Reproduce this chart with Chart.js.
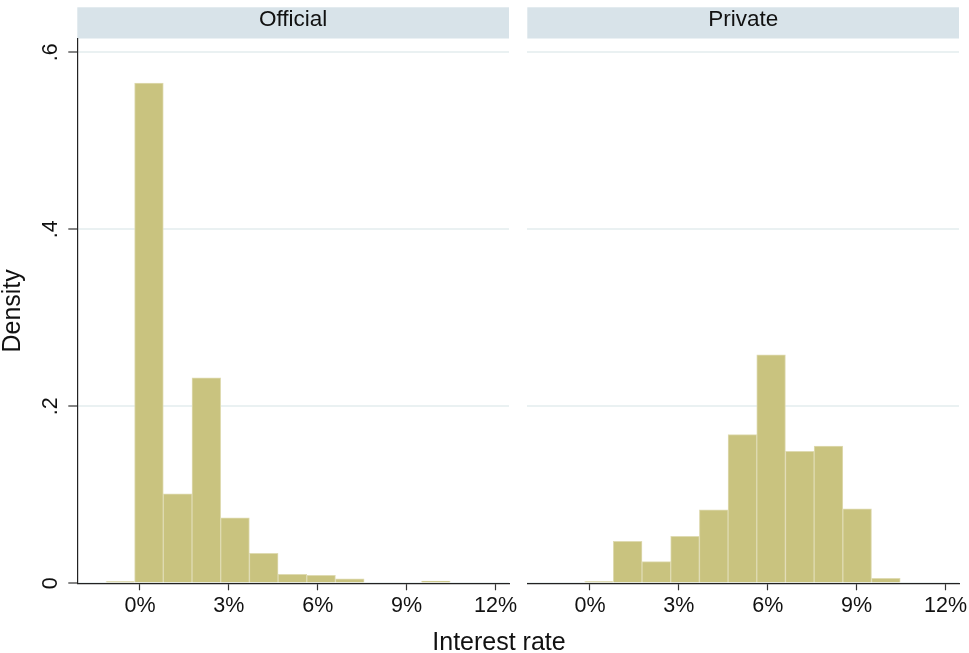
<!DOCTYPE html>
<html>
<head>
<meta charset="utf-8">
<script src="https://cdn.jsdelivr.net/npm/chart.js@4.4.1/dist/chart.umd.min.js"></script>
<style>
  html, body { margin: 0; padding: 0; background: #fff; }
  body { width: 969px; height: 653px; position: relative; overflow: hidden; font-family: "Liberation Sans", Arial, sans-serif; }
  .panel { position: absolute; top: 0; height: 653px; }
  #left { left: 0; width: 518px; }
  #right { left: 518px; width: 451px; }
  #xtitle { position: absolute; left: 349px; width: 300px; top: 626px; text-align: center; font-size: 25px; line-height: 30px; color: #111; }
</style>
</head>
<body>
<div class="panel" id="left"><canvas id="official"></canvas></div>
<div class="panel" id="right"><canvas id="private"></canvas></div>
<div id="xtitle">Interest rate</div>
<script>
// histogram bins (left edges, in %) shared by both panels
const binLeft = [-1.150, -0.182, 0.787, 1.755, 2.723, 3.692, 4.660, 5.628, 6.596, 7.565, 8.533, 9.501];
const binWidth = 0.968;

const officialDensity = [0.002, 0.565, 0.101, 0.232, 0.074, 0.034, 0.010, 0.009, 0.005, 0, 0, 0.0025];
const privateDensity = [0, 0.002, 0.0475, 0.0245, 0.053, 0.083, 0.168, 0.258, 0.149, 0.155, 0.084, 0.0057];

const xTicks = [0, 3, 6, 9, 12];
const yTicks = [0, 0.2, 0.4, 0.6];

Chart.defaults.font.family = '"Liberation Sans", Arial, sans-serif';
Chart.defaults.color = '#111';

// light blue strip behind the panel title
const stripPlugin = {
  id: 'strip',
  beforeDraw(chart) {
    const { ctx, chartArea, titleBlock } = chart;
    ctx.save();
    ctx.fillStyle = '#D8E3E9';
    ctx.fillRect(chartArea.left, titleBlock.top, chartArea.right - chartArea.left, titleBlock.height);
    ctx.restore();
  }
};

const makePanel = function (id, title, values, showY) {
  const ctx = document.getElementById(id).getContext('2d');
  return new Chart(ctx, {
    type: 'bar',
    data: {
      datasets: [{
        data: binLeft.map((l, i) => ({ x: l + binWidth / 2, y: values[i] })),
        backgroundColor: '#C9C37F',
        borderColor: '#DFDBB2',
        borderWidth: 1,
        barPercentage: 1,
        categoryPercentage: 1
      }]
    },
    options: {
      responsive: true,
      maintainAspectRatio: false,
      animation: false,
      layout: { padding: { top: 7.3, left: 0, right: showY ? 9 : 10, bottom: 0 } },
      plugins: {
        legend: { display: false },
        tooltip: { enabled: false },
        title: {
          display: true,
          text: title,
          fullSize: false,
          color: '#111',
          font: { size: 22.5, weight: 'normal', lineHeight: 1 },
          padding: { top: 1.5, bottom: 7.2 }
        }
      },
      scales: {
        x: {
          type: 'linear',
          min: -2.116,
          max: 12.454,
          offset: false,
          afterBuildTicks: s => { s.ticks = xTicks.map(v => ({ value: v })) },
          afterFit: s => { s.height = 69.7; s.paddingLeft = 0; s.paddingRight = 0 },
          grid: { offset: false, drawOnChartArea: false, drawTicks: true, tickLength: 7, tickColor: '#333', tickWidth: 1.2 },
          border: { color: '#222', width: 1.2 },
          ticks: {
            font: { size: 21.5 },
            color: '#111',
            padding: 3,
            maxRotation: 0,
            autoSkip: false,
            callback: v => v + '%'
          }
        },
        y: {
          min: 0,
          max: 0.6155,
          afterBuildTicks: s => { s.ticks = yTicks.map(v => ({ value: v })) },
          afterFit: s => { s.width = showY ? 77.3 : 9.3; s.paddingTop = 0; s.paddingBottom = 0 },
          grid: { color: '#EAF1F2', lineWidth: 2, drawTicks: showY, tickLength: 9, tickColor: '#333', tickWidth: 1.2 },
          border: { display: showY, color: '#222', width: 1.2 },
          title: {
            display: showY,
            text: 'Density',
            color: '#111',
            font: { size: 25, lineHeight: 1 },
            padding: { top: 1, bottom: 0 }
          },
          ticks: {
            display: showY,
            font: { size: 21.5 },
            color: '#111',
            minRotation: 90,
            maxRotation: 90,
            crossAlign: 'center',
            padding: 8,
            callback: v => String(v).replace(/^0\./, '.')
          }
        }
      }
    },
    plugins: [stripPlugin]
  });
}

makePanel('official', 'Official', officialDensity, true);
makePanel('private', 'Private', privateDensity, false);
</script>
</body>
</html>
